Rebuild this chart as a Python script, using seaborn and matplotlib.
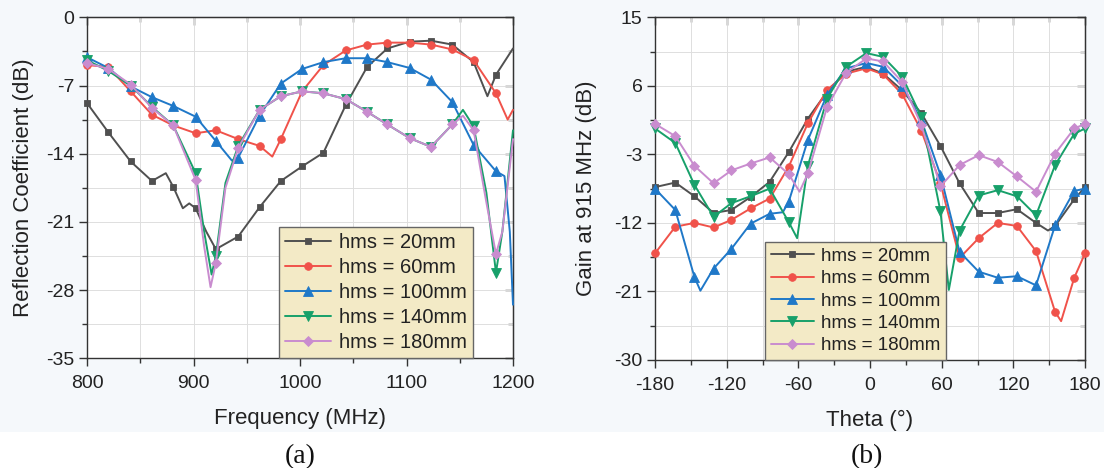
import numpy as np
import pandas as pd
import matplotlib
matplotlib.use("Agg")
import matplotlib.pyplot as plt
import seaborn as sns
from matplotlib.patches import Rectangle

# ---------------- data: panel (a) reflection coefficient ----------------
labels = ["hms = 20mm", "hms = 60mm", "hms = 100mm", "hms = 140mm", "hms = 180mm"]
freq_marks = [800, 820, 841, 861, 881, 902, 921, 942, 962, 982, 1002, 1022, 1043,
              1063, 1082, 1103, 1123, 1143, 1163, 1184]
freq_ticks = [800, 900, 1000, 1100, 1200]
refl_ticks = [0, -7, -14, -21, -28, -35]

f_20 = [800, 820, 841, 861, 874, 881, 890, 896, 902, 912, 921, 942, 962, 982, 1002,
        1022, 1043, 1063, 1082, 1103, 1123, 1143, 1163, 1176, 1184, 1200]
s_20 = [-8.8, -11.8, -14.8, -16.8, -16.0, -17.4, -19.6, -19.1, -19.6, -22.0, -23.8,
        -22.5, -19.5, -16.8, -15.3, -13.9, -9.0, -5.1, -3.2, -2.5, -2.4, -2.8, -4.6,
        -8.1, -5.9, -3.2]

f_60 = [800, 820, 841, 861, 881, 902, 921, 942, 962, 974, 982, 1002, 1022, 1043, 1063,
        1082, 1103, 1123, 1143, 1163, 1184, 1195, 1200]
s_60 = [-4.9, -5.1, -7.6, -10.0, -11.1, -11.9, -11.6, -12.5, -13.2, -14.3, -12.5, -7.6,
        -4.9, -3.4, -2.8, -2.6, -2.6, -2.8, -3.3, -4.4, -7.8, -10.5, -9.5]

f_100 = [800, 820, 841, 861, 881, 902, 921, 936, 942, 962, 982, 1002, 1022, 1043, 1063,
         1082, 1103, 1123, 1143, 1163, 1184, 1192, 1197, 1200]
s_100 = [-4.1, -5.2, -7.1, -8.2, -9.1, -10.2, -12.7, -14.7, -14.4, -10.1, -6.8, -5.3,
         -4.6, -4.2, -4.2, -4.6, -5.2, -6.4, -8.7, -13.1, -15.8, -16.3, -22.0, -29.5]

f_140 = [800, 820, 841, 861, 881, 902, 910, 917, 921, 930, 942, 962, 982, 1002, 1022,
         1043, 1063, 1082, 1103, 1123, 1143, 1153, 1163, 1175, 1184, 1190, 1200]
s_140 = [-4.4, -5.5, -7.0, -9.2, -11.1, -16.0, -22.0, -26.4, -24.5, -17.0, -13.2, -9.5,
         -8.1, -7.6, -7.8, -8.4, -9.7, -11.0, -12.4, -13.3, -11.0, -9.5, -11.2, -18.0,
         -26.2, -22.0, -11.6]

f_180 = [800, 820, 841, 861, 881, 902, 910, 916, 921, 930, 942, 962, 982, 1002, 1022,
         1043, 1063, 1082, 1103, 1123, 1143, 1153, 1163, 1175, 1184, 1190, 1200]
s_180 = [-4.7, -5.3, -6.9, -9.3, -11.1, -16.7, -23.5, -27.7, -25.2, -17.5, -13.4, -9.5,
         -8.1, -7.6, -7.8, -8.4, -9.7, -11.0, -12.4, -13.3, -11.0, -10.1, -11.6, -19.0,
         -24.3, -22.0, -12.5]

# ---------------- data: panel (b) gain pattern ----------------
theta_marks = [-180, -163, -147, -131, -116, -100, -84, -68, -52, -36, -20, -3, 11, 27,
               43, 59, 75, 91, 107, 123, 139, 155, 171, 180]
theta_ticks = [-180, -120, -60, 0, 60, 120, 180]
gain_ticks = [15, 6, -3, -12, -21, -30]

t_20 = [-180, -163, -147, -131, -116, -100, -84, -68, -52, -36, -20, -3, 11, 27, 43, 59,
        75, 91, 107, 123, 139, 149, 155, 171, 180]
g_20 = [-7.3, -6.7, -8.5, -10.7, -10.3, -8.6, -6.6, -2.7, 1.7, 5.2, 7.85, 8.5, 7.6, 5.4,
        2.4, -1.9, -6.8, -10.7, -10.7, -10.2, -12.0, -13.0, -12.4, -8.9, -7.3]

t_60 = [-180, -163, -147, -131, -116, -100, -84, -68, -52, -36, -20, -3, 11, 27, 43, 59,
        75, 91, 107, 123, 139, 155, 160, 171, 180]
g_60 = [-16.0, -12.5, -12.0, -12.6, -11.6, -10.1, -8.8, -4.6, 1.1, 5.45, 7.6, 8.3, 7.5,
        4.9, 0.1, -6.8, -16.6, -14.0, -12.0, -12.4, -15.7, -23.7, -24.9, -19.2, -16.0]

t_100 = [-180, -163, -147, -142, -131, -116, -100, -84, -73, -68, -52, -36, -20, -3, 11,
         27, 43, 59, 75, 91, 107, 123, 139, 155, 171, 180]
g_100 = [-7.5, -10.3, -19.1, -20.9, -18.0, -15.4, -12.1, -10.8, -10.6, -9.2, -1.1, 4.8,
         8.3, 9.0, 8.5, 6.0, 1.5, -5.7, -15.8, -18.4, -19.2, -19.0, -20.2, -12.3, -7.8,
         -7.5]

t_140 = [-180, -163, -147, -131, -116, -100, -84, -68, -61, -52, -36, -20, -3, 11, 27,
         43, 59, 66, 75, 91, 107, 123, 139, 155, 171, 180]
g_140 = [0.4, -1.5, -7.0, -11.2, -9.4, -8.5, -7.5, -11.9, -14.0, -4.5, 4.3, 8.5, 10.3,
         9.8, 7.2, 1.9, -10.5, -20.8, -13.0, -8.4, -7.7, -8.5, -11.0, -4.4, -0.3, 0.4]

t_180 = [-180, -163, -147, -131, -116, -100, -84, -68, -59, -52, -36, -20, -3, 11, 27,
         43, 59, 75, 91, 107, 123, 139, 155, 171, 180]
g_180 = [1.0, -0.6, -4.5, -6.8, -5.1, -4.2, -3.4, -5.6, -7.9, -5.5, 3.2, 7.7, 9.6, 9.2,
         6.5, 0.85, -7.2, -4.4, -3.1, -4.0, -5.9, -7.9, -2.9, 0.4, 1.0]

# ---------------- styling ----------------
sns.set_style("ticks")
plt.rcParams["font.family"] = ["Liberation Sans", "DejaVu Sans"]
plt.rcParams["axes.unicode_minus"] = False

colors = ["#505050", "#f0524a", "#1f78c8", "#17a06a", "#c98ccf"]
markers = ["s", "o", "^", "v", "D"]
msizes = [5, 5.5, 6.5, 6.5, 5]

fig = plt.figure(figsize=(11.04, 4.68), dpi=100)
fig.patch.set_facecolor("white")
fig.add_artist(Rectangle((0, 1 - 432 / 468), 1, 432 / 468, transform=fig.transFigure,
                         facecolor="#f5f8fb", edgecolor="none", zorder=-10))

ax1 = fig.add_axes([87 / 1104, 1 - 358.3 / 468, 426 / 1104, 341 / 468])
ax2 = fig.add_axes([655 / 1104, 1 - 360 / 468, 430 / 1104, 342.7 / 468])


def draw(ax, xs_list, ys_list, marks):
    for i, (xs, ys) in enumerate(zip(xs_list, ys_list)):
        df = pd.DataFrame({"x": xs, "y": ys})
        me = [k for k, v in enumerate(xs) if v in marks]
        sns.lineplot(data=df, x="x", y="y", ax=ax, color=colors[i], marker=markers[i],
                     markersize=msizes[i], markevery=me, linewidth=1.4,
                     markeredgewidth=0.6, markeredgecolor=colors[i], label=labels[i],
                     sort=False, estimator=None, clip_on=False, zorder=3 + i * 0.1)


draw(ax1, [f_20, f_60, f_100, f_140, f_180], [s_20, s_60, s_100, s_140, s_180], freq_marks)
draw(ax2, [t_20, t_60, t_100, t_140, t_180], [g_20, g_60, g_100, g_140, g_180], theta_marks)


def midpoints(t):
    t = sorted(t)
    return [(a + b) / 2 for a, b in zip(t[:-1], t[1:])]


def style_axes(ax, xt, yt, xlabel, ylabel, ylab_x, leg_x, leg_fs, leg_sp):
    ax.set_facecolor("white")
    ax.set_xlim(min(xt), max(xt))
    ax.set_ylim(min(yt), max(yt))
    xm, ym = midpoints(xt), midpoints(yt)
    ax.set_xticks(xt)
    ax.set_xticks(xm, minor=True)
    ax.set_yticks(yt)
    ax.set_yticks(ym, minor=True)
    ax.grid(True, which="both", color="#dedede", linewidth=0.7, zorder=0)
    ax.set_axisbelow(True)
    for sp in ax.spines.values():
        sp.set_visible(True)
        sp.set_color("#333333")
        sp.set_linewidth(1.0)
    ax.tick_params(axis="both", which="major", direction="out", length=6, width=1,
                   labelsize=14, colors="#333333", labelcolor="#222222")
    ax.tick_params(axis="both", which="minor", direction="out", length=3.5, width=1,
                   colors="#333333")
    ax.tick_params(axis="x", pad=6)
    ax.tick_params(axis="y", pad=3)
    secx = ax.secondary_xaxis("top")
    secx.set_xticks(xt)
    secx.set_xticks(xm, minor=True)
    secx.tick_params(axis="x", which="major", direction="in", length=6, width=1,
                     labeltop=False, colors="#333333")
    secx.tick_params(axis="x", which="minor", direction="in", length=3.5, width=1,
                     colors="#333333")
    secy = ax.secondary_yaxis("right")
    secy.set_yticks(yt)
    secy.set_yticks(ym, minor=True)
    secy.tick_params(axis="y", which="major", direction="in", length=6, width=1,
                     labelright=False, colors="#333333")
    secy.tick_params(axis="y", which="minor", direction="in", length=3.5, width=1,
                     colors="#333333")
    ax.set_xlabel(xlabel, fontsize=16, color="#222222")
    ax.set_ylabel(ylabel, fontsize=16, color="#222222")
    ax.xaxis.set_label_coords(0.5, -0.145)
    ax.yaxis.set_label_coords(ylab_x, 0.5)
    leg = ax.legend(loc="lower left", bbox_to_anchor=(leg_x, 0.0), borderaxespad=0,
                    fontsize=leg_fs, frameon=True, fancybox=False, handlelength=2.3,
                    handletextpad=0.4, labelspacing=leg_sp, borderpad=0.3, numpoints=1)
    fr = leg.get_frame()
    fr.set_facecolor("#f3eac6")
    fr.set_edgecolor("#666666")
    fr.set_linewidth(1.0)
    fr.set_alpha(1.0)
    for t in leg.get_texts():
        t.set_color("#222222")
    leg.set_zorder(10)


style_axes(ax1, freq_ticks, refl_ticks, "Frequency (MHz)",
           "Reflection Coefficient (dB)", -0.125, 0.45, 14.5, 0.3)
style_axes(ax2, theta_ticks, gain_ticks, "Theta (\u00b0)",
           "Gain at 915 MHz (dB)", -0.135, 0.256, 13.5, 0.28)

fig.text(300 / 1104, 1 - 457 / 468, "(a)", ha="center", va="center", fontsize=20,
         family=["Liberation Serif", "DejaVu Serif"], color="#111111")
fig.text(867 / 1104, 1 - 457 / 468, "(b)", ha="center", va="center", fontsize=20,
         family=["Liberation Serif", "DejaVu Serif"], color="#111111")

fig.savefig("out.png", dpi=100, facecolor=fig.get_facecolor())
